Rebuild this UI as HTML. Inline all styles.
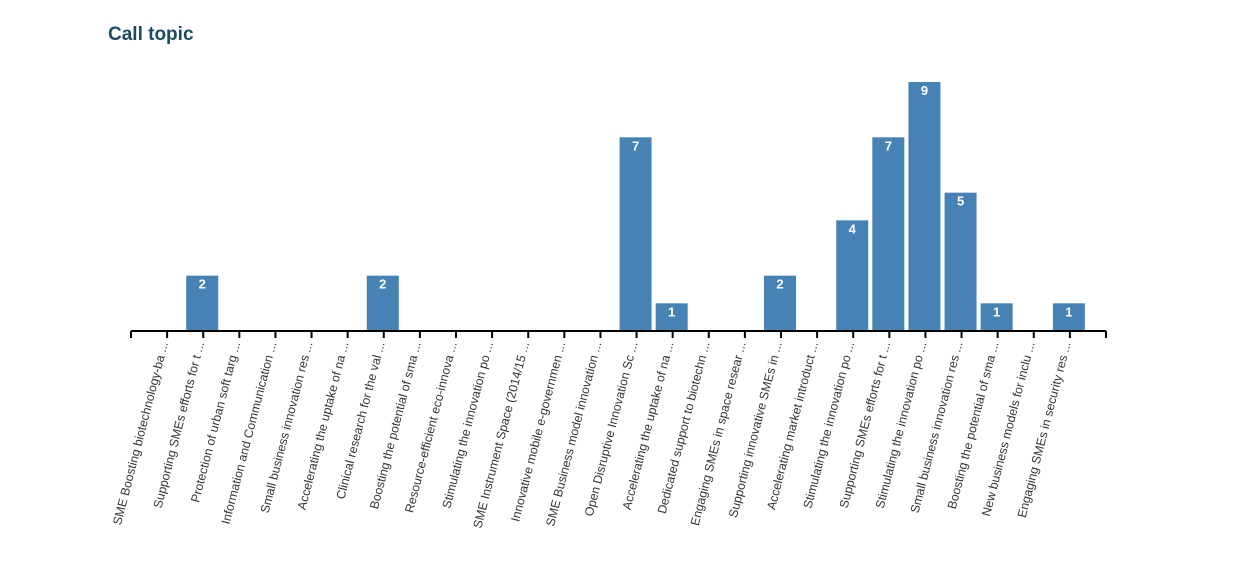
<!DOCTYPE html>
<html><head><meta charset="utf-8"><style>
body{margin:0;background:#fff;}
svg text{font-family:"Liberation Sans",Arial,sans-serif;}
</style></head><body>
<svg width="1242" height="563" xmlns="http://www.w3.org/2000/svg">
<text x="108" y="40" font-size="19" font-weight="bold" fill="#1b4b63">Call topic</text>
<g id="bars"></g>
<g id="axis"></g>
</svg>
<script>
const labels=["SME Boosting biotechnology-ba ...","Supporting SMEs efforts for t ...","Protection of urban soft targ ...","Information and Communication ...","Small business innovation res ...","Accelerating the uptake of na ...","Clinical research for the val ...","Boosting the potential of sma ...","Resource-efficient eco-innova ...","Stimulating the innovation po ...","SME Instrument Space (2014/15 ...","Innovative mobile e-governmen ...","SME Business model innovation ...","Open Disruptive Innovation Sc ...","Accelerating the uptake of na ...","Dedicated support to biotechn ...","Engaging SMEs in space resear ...","Supporting innovative SMEs in ...","Accelerating market introduct ...","Stimulating the innovation po ...","Supporting SMEs efforts for t ...","Stimulating the innovation po ...","Small business innovation res ...","Boosting the potential of sma ...","New business models for inclu ...","Engaging SMEs in security res ..."];
const vals={2:2,7:2,14:7,15:1,18:2,20:4,21:7,22:9,23:5,24:1,26:1};
const x0=131,x1=1106,step=(x1-x0)/27,base=331,u=27.67;
let b="",a="";
for(let i=1;i<=26;i++){
 const cx=x0+step*i;
 if(vals[i]){const h=vals[i]*u,y=base-h;
  b+=`<rect x="${cx-17}" y="${y}" width="32" height="${h}" fill="#4682b4"/>`;
  b+=`<text x="${cx-1}" y="${y+13}" font-size="13" font-weight="bold" fill="#fff" text-anchor="middle">${vals[i]}</text>`;}
 a+=`<line x1="${cx}" y1="${base}" x2="${cx}" y2="${base+7}" stroke="#000" stroke-width="2"/>`;
 a+=`<text transform="translate(${cx+1},${base+12}) rotate(-75.5)" font-size="12.3" fill="#333" text-anchor="end">${labels[i-1]}</text>`;
}
a+=`<line x1="${x0}" y1="${base}" x2="${x1}" y2="${base}" stroke="#000" stroke-width="2"/>`;
a+=`<line x1="${x0}" y1="${base}" x2="${x0}" y2="${base+7}" stroke="#000" stroke-width="2"/>`;
a+=`<line x1="${x1}" y1="${base}" x2="${x1}" y2="${base+7}" stroke="#000" stroke-width="2"/>`;
document.getElementById("bars").innerHTML=b;
document.getElementById("axis").innerHTML=a;
</script>
</body></html>
